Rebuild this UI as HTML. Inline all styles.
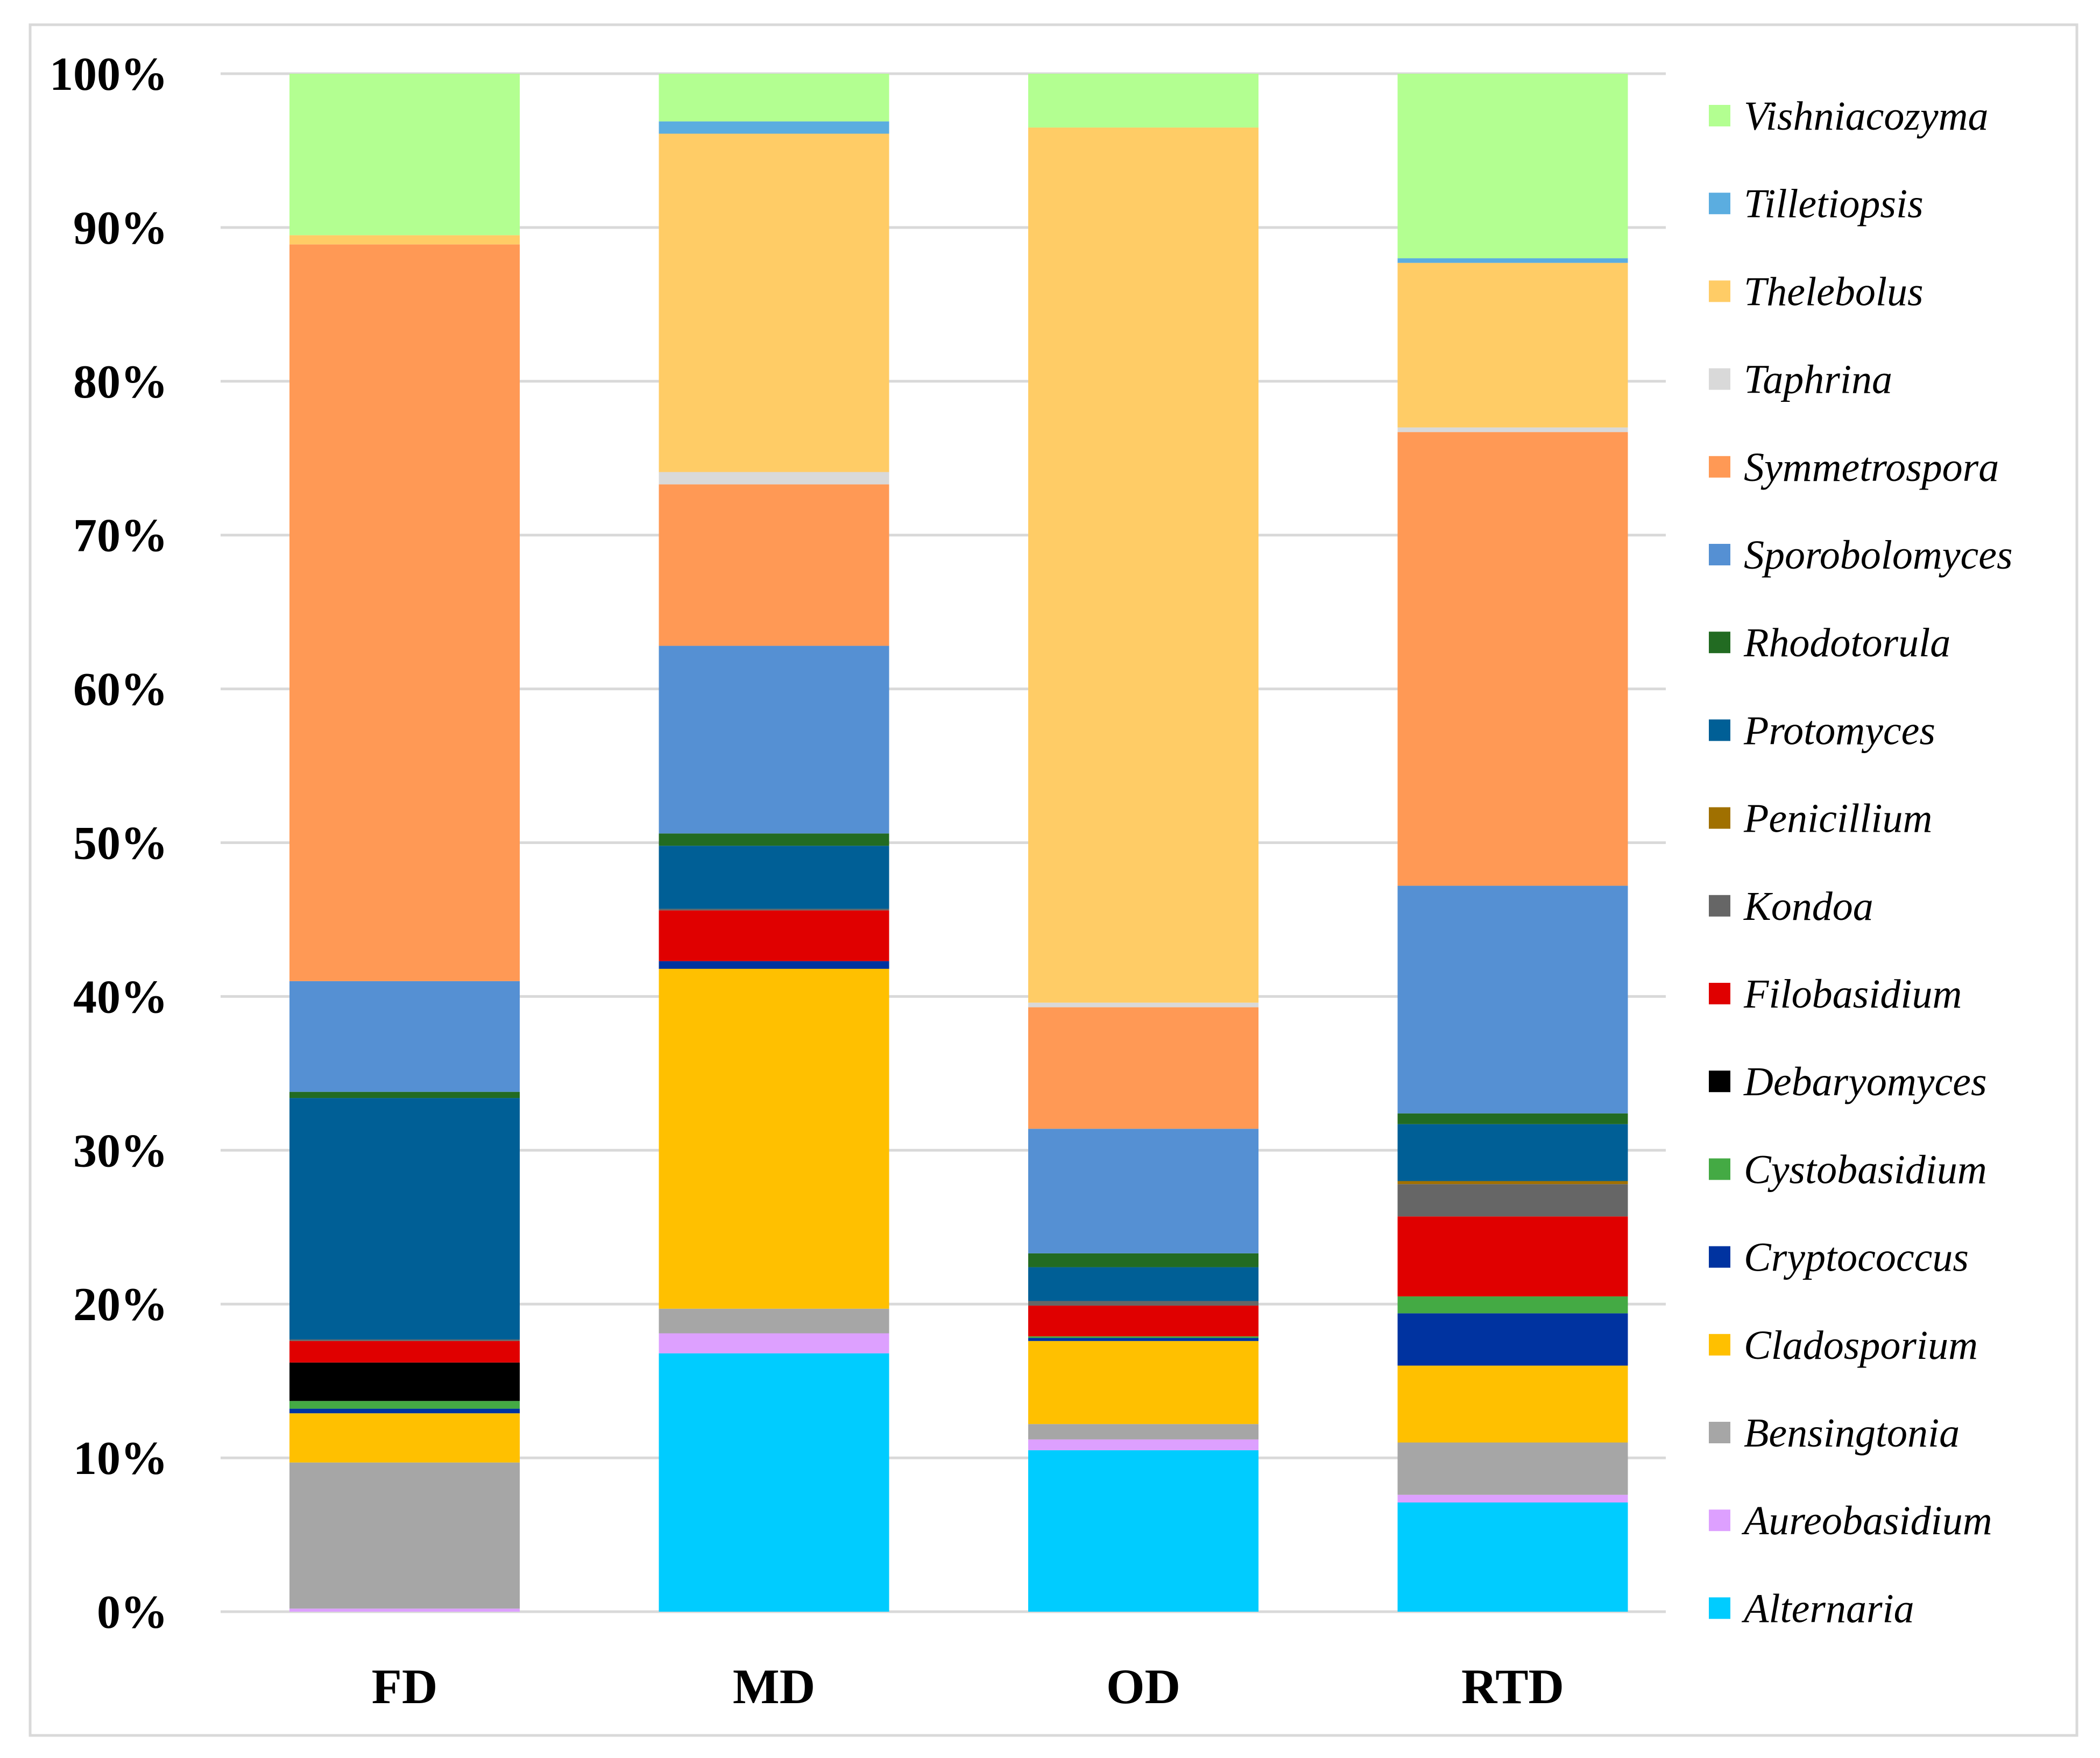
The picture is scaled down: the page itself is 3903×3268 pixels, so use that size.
<!DOCTYPE html>
<html><head><meta charset="utf-8"><style>
html,body{margin:0;padding:0;background:#fff;}
svg{display:block;}
</style></head><body>
<svg id="chart" width="3903" height="3268" xmlns="http://www.w3.org/2000/svg">
<rect x="56" y="46" width="3804" height="3180" fill="#fff" stroke="#d9d9d9" stroke-width="5"/>
<g id="grid"></g><g id="bars"></g><g id="yticks"></g><g id="xlabels"></g><g id="legend"></g>
</svg>
<script>
const categories = ["FD","MD","OD","RTD"];
const seriesNames = ["Alternaria","Aureobasidium","Bensingtonia","Cladosporium","Cryptococcus","Cystobasidium","Debaryomyces","Filobasidium","Kondoa","Penicillium","Protomyces","Rhodotorula","Sporobolomyces","Symmetrospora","Taphrina","Thelebolus","Tilletiopsis","Vishniacozyma"];
const seriesColors = ["#00CCFF","#DDA0FF","#A6A6A6","#FFC000","#0033A0","#44AA44","#000000","#E00000","#666666","#A07000","#005F96","#226B22","#5590D3","#FF9955","#D9D9D9","#FFCC66","#5BADE0","#B3FF91"];
const valuesFD  = [0,0.2,9.5,3.2,0.3,0.5,2.5,1.4,0.1,0,15.7,0.4,7.2,47.9,0,0.6,0,10.5];
const valuesMD  = [16.8,1.3,1.6,22.1,0.5,0,0,3.3,0.1,0,4.1,0.8,12.2,10.5,0.8,22.0,0.8,3.1];
const valuesOD  = [10.5,0.7,1.0,5.4,0.2,0.1,0,2.0,0.3,0,2.2,0.9,8.1,7.9,0.3,56.9,0,3.5];
const valuesRTD = [7.1,0.5,3.4,5.0,3.4,1.1,0,5.2,2.1,0.2,3.7,0.7,14.8,29.5,0.3,10.7,0.3,12.0];
const tickValues = [0,10,20,30,40,50,60,70,80,90,100];
const tickLabels = ["0%","10%","20%","30%","40%","50%","60%","70%","80%","90%","100%"];

const NS="http://www.w3.org/2000/svg";
const Y0=2996, Y100=137, PL=410, PR=3096, BW=428;
const centers0=752, step=686.5;
function yScale(v){return Y0-(Y0-Y100)*v/100;}
function xScale(i){return centers0+step*i;}
function mk(tag,attrs,parent){const e=document.createElementNS(NS,tag);for(const k in attrs)e.setAttribute(k,attrs[k]);parent.appendChild(e);return e;}

const grid=document.getElementById('grid');
tickValues.forEach((t,i)=>{
  const l=mk('line',{x1:PL,x2:PR,y1:yScale(t),y2:yScale(t),stroke:'#d9d9d9','stroke-width':5},grid);
  
  
  const tx=mk('text',{x:312,y:yScale(t)+30,'text-anchor':'end','font-family':'"Liberation Serif", serif','font-weight':'bold','font-size':88,fill:'#000'},document.getElementById('yticks'));
  tx.textContent=tickLabels[i];
  
  
});

const allValues=[valuesFD,valuesMD,valuesOD,valuesRTD];
const bars=document.getElementById('bars');
allValues.forEach((vals,ci)=>{
  let cum=0;
  vals.forEach((v,si)=>{
    if(v<=0){cum+=v;return;}
    const yTop=yScale(cum+v), yBot=yScale(cum);
    const r=mk('rect',{x:xScale(ci)-BW/2,y:yTop,width:BW,height:yBot-yTop,fill:seriesColors[si]},bars);
    
    
    cum+=v;
  });
  const xl=mk('text',{x:xScale(ci),y:3166,'text-anchor':'middle','font-family':'"Liberation Serif", serif','font-weight':'bold','font-size':92,fill:'#000'},document.getElementById('xlabels'));
  xl.textContent=categories[ci];
  
  
});

const legend=document.getElementById('legend');
const n=seriesNames.length;
for(let k=0;k<n;k++){
  const si=n-1-k;
  const cy=215+163.2*k;
  const g=mk('g',{},legend);
  
  
  const sq=mk('rect',{x:3176,y:cy-20,width:40,height:40,fill:seriesColors[si]},g);
  
  
  const t=mk('text',{x:3241,y:cy+26,'font-family':'"Liberation Serif", serif','font-style':'italic','font-size':76,fill:'#000'},g);
  t.textContent=seriesNames[si];
  
  
}
</script>
</body></html>
